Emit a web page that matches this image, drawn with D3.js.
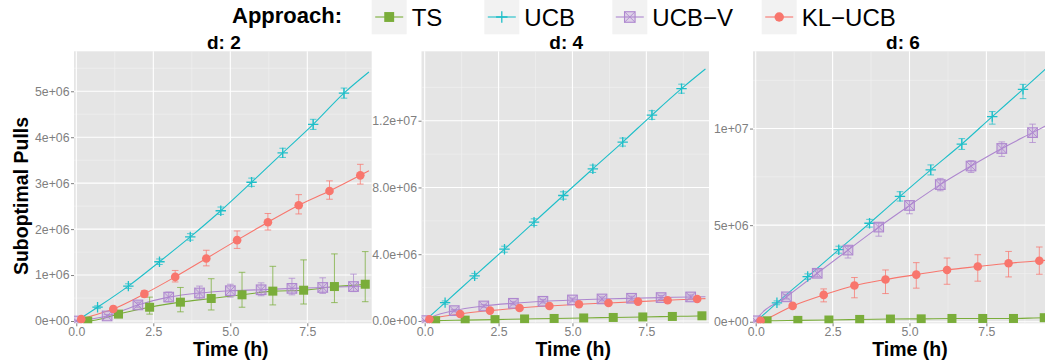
<!DOCTYPE html>
<html>
<head>
<meta charset="utf-8">
<script src="https://cdn.jsdelivr.net/npm/d3@7"></script>
<style>
  body { margin: 0; background: #fff; }
  svg { display: block; font-family: "Liberation Sans", Arial, Helvetica, sans-serif; }
</style>
</head>
<body>
<svg id="chart" width="1045" height="362"></svg>
<script>
// ---- data (suboptimal pulls in millions, time in hours) ----
const approaches = ["TS", "UCB", "UCB-V", "KL-UCB"];
const approachLabels = ["TS", "UCB", "UCB\u2212V", "KL\u2212UCB"];
const panelTitles = ["d: 2", "d: 4", "d: 6"];

const tsTimes   = [0.37, 1.37, 2.38, 3.38, 4.38, 5.38, 6.38, 7.38, 8.38, 9.38];
const ucbTimes  = [0.69, 1.69, 2.70, 3.70, 4.69, 5.69, 6.70, 7.69, 8.69];
const ucbvTimes = [0, 1, 2, 3, 4, 5, 6, 7, 8, 9];
const klTimes   = [0.16, 1.20, 2.21, 3.21, 4.22, 5.22, 6.22, 7.22, 8.22, 9.22];
const lineStartTime = 0;
const lineEndTime = 9.5;

// d: 2
const d2TS     = [0.00, 0.15, 0.30, 0.41, 0.49, 0.57, 0.65, 0.67, 0.75, 0.80];
const d2TSLo   = [0.00, 0.10, 0.15, 0.20, 0.24, 0.30, 0.35, 0.37, 0.40, 0.42];
const d2TSHi   = [0.02, 0.20, 0.52, 0.73, 0.92, 1.06, 1.19, 1.33, 1.46, 1.51];
const d2UCB    = [0.30, 0.76, 1.29, 1.83, 2.40, 3.02, 3.66, 4.28, 4.96];
const d2UCBLo  = [0.27, 0.71, 1.23, 1.76, 2.32, 2.93, 3.56, 4.17, 4.85];
const d2UCBHi  = [0.33, 0.81, 1.35, 1.90, 2.48, 3.11, 3.76, 4.39, 5.07];
const d2UCBV   = [0.00, 0.11, 0.35, 0.52, 0.61, 0.66, 0.68, 0.71, 0.73, 0.75];
const d2UCBVLo = [0.00, 0.08, 0.30, 0.42, 0.48, 0.52, 0.55, 0.57, 0.60, 0.64];
const d2UCBVHi = [0.02, 0.14, 0.41, 0.63, 0.76, 0.80, 0.83, 0.93, 0.94, 1.02];
const d2KL     = [0.04, 0.26, 0.59, 0.96, 1.36, 1.76, 2.15, 2.52, 2.83, 3.17];
const d2KLLo   = [0.02, 0.20, 0.52, 0.85, 1.20, 1.58, 1.98, 2.33, 2.65, 2.98];
const d2KLHi   = [0.06, 0.32, 0.66, 1.10, 1.54, 1.96, 2.34, 2.75, 3.05, 3.41];
const d2LineEnd = [0.81, 5.42, 0.76, 3.27];

// d: 4
const d4TS     = [0.02, 0.05, 0.08, 0.12, 0.15, 0.18, 0.21, 0.24, 0.27, 0.31];
const d4TSLo   = [0.00, 0.03, 0.06, 0.10, 0.13, 0.16, 0.19, 0.22, 0.25, 0.29];
const d4TSHi   = [0.04, 0.07, 0.10, 0.14, 0.17, 0.20, 0.23, 0.26, 0.29, 0.33];
const d4UCB    = [1.10, 2.70, 4.30, 5.92, 7.52, 9.12, 10.72, 12.34, 13.92];
const d4UCBLo  = [1.00, 2.55, 4.12, 5.72, 7.30, 8.90, 10.48, 12.08, 13.65];
const d4UCBHi  = [1.20, 2.85, 4.48, 6.12, 7.74, 9.34, 10.96, 12.60, 14.19];
const d4UCBV   = [0.02, 0.62, 0.90, 1.06, 1.18, 1.26, 1.32, 1.36, 1.40, 1.44];
const d4UCBVLo = [0.00, 0.55, 0.82, 0.97, 1.08, 1.15, 1.20, 1.24, 1.28, 1.32];
const d4UCBVHi = [0.04, 0.69, 0.98, 1.15, 1.28, 1.37, 1.44, 1.48, 1.52, 1.56];
const d4KL     = [0.10, 0.42, 0.62, 0.78, 0.90, 1.00, 1.08, 1.16, 1.24, 1.32];
const d4KLLo   = [0.07, 0.38, 0.57, 0.73, 0.85, 0.94, 1.02, 1.10, 1.18, 1.25];
const d4KLHi   = [0.13, 0.46, 0.67, 0.83, 0.95, 1.06, 1.14, 1.22, 1.30, 1.39];
const d4LineEnd = [0.32, 15.10, 1.45, 1.34];

// d: 6
const d6TS     = [0.05, 0.07, 0.09, 0.12, 0.14, 0.15, 0.17, 0.17, 0.17, 0.21];
const d6TSLo   = [0.03, 0.05, 0.07, 0.10, 0.12, 0.13, 0.15, 0.15, 0.15, 0.19];
const d6TSHi   = [0.07, 0.09, 0.11, 0.14, 0.16, 0.17, 0.19, 0.19, 0.19, 0.23];
const d6UCB    = [0.98, 2.34, 3.73, 5.10, 6.49, 7.86, 9.20, 10.62, 12.03];
const d6UCBLo  = [0.88, 2.20, 3.55, 4.90, 6.25, 7.60, 8.92, 10.23, 11.55];
const d6UCBHi  = [1.08, 2.48, 3.91, 5.30, 6.73, 8.12, 9.48, 10.88, 12.29];
const d6UCBV   = [0.05, 1.29, 2.51, 3.71, 4.90, 6.02, 7.10, 8.06, 8.97, 9.79];
const d6UCBVLo = [0.02, 1.18, 2.33, 3.30, 4.43, 5.59, 6.78, 7.73, 8.56, 9.28];
const d6UCBVHi = [0.08, 1.40, 2.69, 3.90, 5.10, 6.27, 7.42, 8.34, 9.31, 10.23];
const d6KL     = [0.05, 0.82, 1.39, 1.88, 2.19, 2.44, 2.68, 2.86, 3.03, 3.16];
const d6KLLo   = [0.03, 0.72, 1.03, 1.24, 1.46, 1.74, 1.94, 2.10, 2.32, 2.46];
const d6KLHi   = [0.07, 0.92, 1.70, 2.29, 2.68, 3.06, 3.30, 3.47, 3.64, 3.87];
const d6LineEnd = [0.21, 13.20, 10.20, 3.19];

// axes
const xTickValues = [0, 2.5, 5, 7.5];
const xTickLabels = ["0.0", "2.5", "5.0", "7.5"];
const xMinorValues = [1.25, 3.75, 6.25, 8.75];
const d2YTicks = [0, 1, 2, 3, 4, 5];
const d2YLabels = ["0e+00", "1e+06", "2e+06", "3e+06", "4e+06", "5e+06"];
const d2YMinor = [0.5, 1.5, 2.5, 3.5, 4.5, 5.5];
const d4YTicks = [0, 4, 8, 12];
const d4YLabels = ["0.0e+00", "4.0e+06", "8.0e+06", "1.2e+07"];
const d4YMinor = [2, 6, 10, 14];
const d6YTicks = [0, 5, 10];
const d6YLabels = ["0e+00", "5e+06", "1e+07"];
const d6YMinor = [2.5, 7.5, 12.5];

// ---- layout ----
const colors = ["#7AAD3A", "#1FBFC9", "#AE87CF", "#F8766D"];
const times = [tsTimes, ucbTimes, ucbvTimes, klTimes];
const panelTop = 51.3, panelBottom = 323.3;

const panels = [
  { title: panelTitles[0], x0: 74, x1: 371.7, xDom: [-0.075, 9.59], yDom: [-0.05, 5.87],
    yTicks: d2YTicks, yLabels: d2YLabels, yMinor: d2YMinor, lineEnd: d2LineEnd,
    series: [[d2TS, d2TSLo, d2TSHi], [d2UCB, d2UCBLo, d2UCBHi], [d2UCBV, d2UCBVLo, d2UCBVHi], [d2KL, d2KLLo, d2KLHi]] },
  { title: panelTitles[1], x0: 421.5, x1: 709, xDom: [-0.108, 9.62], yDom: [-0.14, 16.16],
    yTicks: d4YTicks, yLabels: d4YLabels, yMinor: d4YMinor, lineEnd: d4LineEnd,
    series: [[d4TS, d4TSLo, d4TSHi], [d4UCB, d4UCBLo, d4UCBHi], [d4UCBV, d4UCBVLo, d4UCBVHi], [d4KL, d4KLLo, d4KLHi]] },
  { title: panelTitles[2], x0: 753, x1: 1051, xDom: [-0.088, 9.6], yDom: [-0.08, 14.0],
    yTicks: d6YTicks, yLabels: d6YLabels, yMinor: d6YMinor, lineEnd: d6LineEnd,
    series: [[d6TS, d6TSLo, d6TSHi], [d6UCB, d6UCBLo, d6UCBHi], [d6UCBV, d6UCBVLo, d6UCBVHi], [d6KL, d6KLLo, d6KLHi]] }
];

const svg = d3.select("#chart");
const defs = svg.append("defs");

// marker glyphs per approach
function drawMarker(g, idx, color, big) {
  const s = big ? 1.1 : 1;
  if (idx === 0) {
    const h = 4.5 * s;
    g.append("rect").attr("x", -h).attr("y", -h).attr("width", 2 * h).attr("height", 2 * h).attr("fill", color);
  } else if (idx === 1) {
    const h = 5.2 * s;
    g.append("path").attr("d", `M${-h},0H${h}M0,${-h}V${h}`).attr("stroke", color).attr("stroke-width", 1.3).attr("fill", "none");
  } else if (idx === 2) {
    const h = 4.8 * s;
    g.append("rect").attr("x", -h).attr("y", -h).attr("width", 2 * h).attr("height", 2 * h)
      .attr("fill", color).attr("fill-opacity", 0.3).attr("stroke", color).attr("stroke-width", 1.1);
    g.append("path").attr("d", `M${-h},${-h}L${h},${h}M${-h},${h}L${h},${-h}`).attr("stroke", color).attr("stroke-width", 0.9);
  } else {
    g.append("circle").attr("r", 4.3 * s).attr("fill", color);
  }
}

panels.forEach((p, pi) => {
  const x = d3.scaleLinear().domain(p.xDom).range([p.x0, p.x1]);
  const y = d3.scaleLinear().domain(p.yDom).range([panelBottom, panelTop]);
  const g = svg.append("g");

  // panel background
  g.append("rect").attr("x", p.x0).attr("y", panelTop).attr("width", p.x1 - p.x0).attr("height", panelBottom - panelTop).attr("fill", "#E5E5E5");

  // minor grid
  g.selectAll(".vmin").data(xMinorValues).join("line")
    .attr("x1", d => x(d)).attr("x2", d => x(d)).attr("y1", panelTop).attr("y2", panelBottom)
    .attr("stroke", "#F2F2F2").attr("stroke-width", 0.6);
  g.selectAll(".hmin").data(p.yMinor.filter(v => y(v) > panelTop)).join("line")
    .attr("x1", p.x0).attr("x2", p.x1).attr("y1", d => y(d)).attr("y2", d => y(d))
    .attr("stroke", "#F2F2F2").attr("stroke-width", 0.6);
  // major grid
  g.selectAll(".vmaj").data(xTickValues).join("line")
    .attr("x1", d => x(d)).attr("x2", d => x(d)).attr("y1", panelTop).attr("y2", panelBottom)
    .attr("stroke", "#FFFFFF").attr("stroke-width", 1.1);
  g.selectAll(".hmaj").data(p.yTicks).join("line")
    .attr("x1", p.x0).attr("x2", p.x1).attr("y1", d => y(d)).attr("y2", d => y(d))
    .attr("stroke", "#FFFFFF").attr("stroke-width", 1.1);

  // axes
  const xAxis = d3.axisBottom(x).tickValues(xTickValues).tickSize(3).tickPadding(1)
    .tickFormat((d, i) => xTickLabels[i]);
  const ax = g.append("g").attr("transform", `translate(0,${panelBottom})`).call(xAxis);
  const yAxis = d3.axisLeft(y).tickValues(p.yTicks).tickSize(3).tickPadding(1.5)
    .tickFormat((d, i) => p.yLabels[i]);
  const ay = g.append("g").attr("transform", `translate(${p.x0},0)`).call(yAxis);
  [ax, ay].forEach(a => {
    a.select(".domain").remove();
    a.selectAll(".tick line").attr("stroke", "#7F7F7F");
    a.selectAll(".tick text").attr("fill", "#7F7F7F").attr("font-size", 12.3)
      .attr("font-family", "Liberation Sans, Arial, sans-serif");
  });

  // panel title
  g.append("text").attr("x", (p.x0 + p.x1) / 2 + 1).attr("y", 49).attr("text-anchor", "middle")
    .attr("font-size", 19).attr("font-weight", "bold").attr("fill", "#000").text(p.title);

  // x axis title
  g.append("text").attr("x", (p.x0 + p.x1) / 2 + 8).attr("y", 356).attr("text-anchor", "middle")
    .attr("font-size", 19.5).attr("font-weight", "bold").attr("fill", "#000").text("Time (h)");

  // clip for lines
  const clipId = "clip" + pi;
  defs.append("clipPath").attr("id", clipId).append("rect")
    .attr("x", p.x0).attr("y", panelTop).attr("width", p.x1 - p.x0).attr("height", panelBottom - panelTop);
  const plot = g.append("g").attr("clip-path", `url(#${clipId})`);

  const line = d3.line().x(d => x(d[0])).y(d => y(d[1])).curve(d3.curveMonotoneX);

  // lines
  p.series.forEach((s, si) => {
    const pts = [[lineStartTime, 0]].concat(times[si].map((t, i) => [t, s[0][i]]));
    pts.push([lineEndTime, p.lineEnd[si]]);
    plot.append("path").attr("d", line(pts)).attr("fill", "none")
      .attr("stroke", colors[si]).attr("stroke-width", 1.1);
  });

  // error bars
  p.series.forEach((s, si) => {
    const cap = 3.3;
    times[si].forEach((t, i) => {
      const cx = x(t), lo = y(s[1][i]), hi = y(s[2][i]);
      plot.append("path")
        .attr("d", `M${cx},${lo}V${hi}M${cx - cap},${lo}H${cx + cap}M${cx - cap},${hi}H${cx + cap}`)
        .attr("stroke", colors[si]).attr("stroke-width", 1).attr("stroke-opacity", 0.75).attr("fill", "none");
    });
  });

  // markers
  p.series.forEach((s, si) => {
    times[si].forEach((t, i) => {
      const m = plot.append("g").attr("transform", `translate(${x(t)},${y(s[0][i])})`);
      drawMarker(m, si, colors[si], false);
    });
  });
});

// y axis title
svg.append("text").attr("transform", "translate(27.5,196) rotate(-90)").attr("text-anchor", "middle")
  .attr("font-size", 19.5).attr("font-weight", "bold").attr("fill", "#000").text("Suboptimal Pulls");

// legend
const legend = svg.append("g");
legend.append("text").attr("x", 232).attr("y", 23).attr("font-size", 22).attr("font-weight", "bold")
  .attr("fill", "#000").text("Approach:");
const keyX = [371.7, 484.3, 612.3, 761.7];
approaches.forEach((a, i) => {
  const k = legend.append("g").attr("transform", `translate(${keyX[i]},0)`);
  k.append("rect").attr("x", 0).attr("y", -1).attr("width", 35).attr("height", 35.3).attr("fill", "#F2F2F2");
  k.append("line").attr("x1", 3.5).attr("x2", 31.5).attr("y1", 17).attr("y2", 17)
    .attr("stroke", colors[i]).attr("stroke-width", 1.1);
  const m = k.append("g").attr("transform", "translate(17.5,17)");
  drawMarker(m, i, colors[i], true);
  k.append("text").attr("x", 40).attr("y", 25.5).attr("font-size", 24).attr("fill", "#000").text(approachLabels[i]);
});
</script>
</body>
</html>
